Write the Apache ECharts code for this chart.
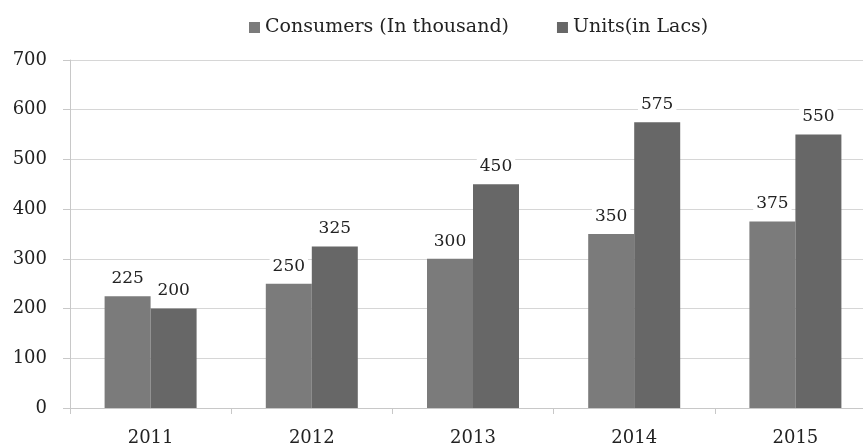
<!DOCTYPE html>
<html>
<head>
<meta charset="utf-8">
<script src="https://cdn.jsdelivr.net/npm/echarts@6/dist/echarts.min.js"></script>
<style>
  html, body { margin: 0; padding: 0; background: #ffffff; overflow: hidden; }
  /* the plot runs a little past the right edge of the window */
  #chart { width: 876px; height: 447px; }
</style>
</head>
<body>
<div id="chart"></div>
<script>
// Yearly consumers and units
const years = ['2011', '2012', '2013', '2014', '2015'];
const consumers = [225, 250, 300, 350, 375];
const units = [200, 325, 450, 575, 550];
const seriesNames = ['Consumers (In thousand)', 'Units(in Lacs)'];

const FONT = 'DejaVu Serif';

const labelStyle = {
  show: true,
  position: 'top',
  distance: 8,
  color: '#222',
  fontFamily: FONT,
  fontSize: 17,
  backgroundColor: '#ffffff',
  padding: [1, 3, 1, 3]
};

const chart = echarts.init(document.getElementById('chart'));
chart.setOption({
  backgroundColor: '#ffffff',
  animation: false,
  textStyle: { fontFamily: FONT },
  legend: {
    top: 13,
    left: 244,
    itemWidth: 11,
    itemHeight: 11,
    itemGap: 48,
    icon: 'rect',
    textStyle: { fontFamily: FONT, fontSize: 19, color: '#222' },
    data: seriesNames
  },
  grid: { left: 70, top: 60, right: 0, bottom: 39, containLabel: false },
  xAxis: {
    type: 'category',
    data: years,
    axisLine: { lineStyle: { color: '#c8c8c8', width: 1 } },
    axisTick: { show: true, length: 6, lineStyle: { color: '#c8c8c8' } },
    axisLabel: { color: '#222', fontFamily: FONT, fontSize: 18, margin: 21 }
  },
  yAxis: {
    type: 'value',
    min: 0,
    max: 700,
    interval: 100,
    axisLine: { show: true, lineStyle: { color: '#c8c8c8', width: 1 } },
    axisTick: { show: true, length: 7, lineStyle: { color: '#c8c8c8' } },
    axisLabel: { color: '#222', fontFamily: FONT, fontSize: 18, margin: 23 },
    splitLine: { lineStyle: { color: '#d6d6d6', width: 1 } }
  },
  series: [
    {
      name: seriesNames[0],
      type: 'bar',
      data: consumers,
      barWidth: 46,
      barGap: '0%',
      itemStyle: { color: '#7b7b7b' },
      label: labelStyle
    },
    {
      name: seriesNames[1],
      type: 'bar',
      data: units,
      barWidth: 46,
      barGap: '0%',
      itemStyle: { color: '#676767' },
      label: labelStyle
    }
  ]
});
</script>
</body>
</html>
